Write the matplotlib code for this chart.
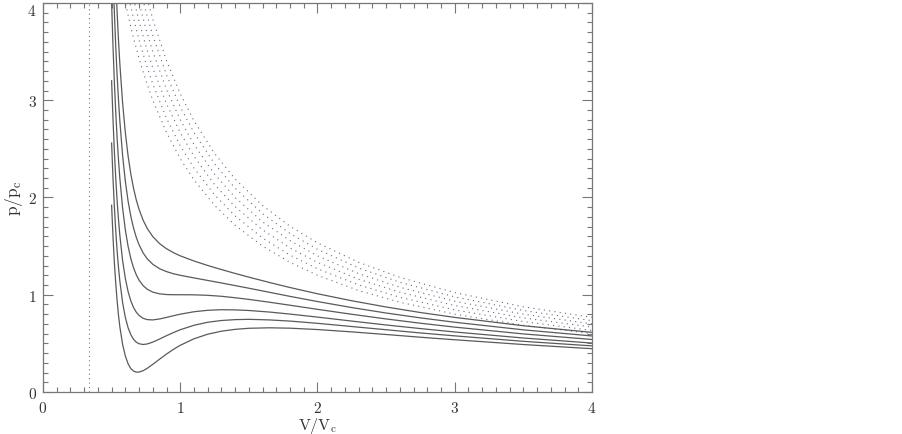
import numpy as np
import matplotlib
matplotlib.use("Agg")
import matplotlib.pyplot as plt
from matplotlib.ticker import MultipleLocator

# van der Waals isotherms (solid)
v_solid = [0.50, 0.51, 0.52, 0.53, 0.54, 0.55, 0.56, 0.58, 0.60, 0.62, 0.64, 0.66,
           0.68, 0.70, 0.73, 0.76, 0.80, 0.85, 0.90, 0.95, 1.00, 1.10, 1.20, 1.30,
           1.40, 1.50, 1.65, 1.80, 2.00, 2.25, 2.50, 2.75, 3.00, 3.50, 4.00]

p_iso1 = [1.92, 1.60, 1.33, 1.12, 0.94, 0.79, 0.67, 0.49, 0.37, 0.29, 0.24, 0.215,
          0.204, 0.205, 0.219, 0.244, 0.284, 0.338, 0.390, 0.438, 0.480, 0.547, 0.594, 0.625,
          0.644, 0.655, 0.660, 0.656, 0.642, 0.618, 0.591, 0.563, 0.537, 0.488, 0.445]
p_iso2 = [2.56, 2.20, 1.905, 1.66, 1.454, 1.283, 1.140, 0.920, 0.767, 0.661, 0.589, 0.541,
          0.512, 0.496, 0.488, 0.494, 0.513, 0.545, 0.579, 0.611, 0.640, 0.686, 0.717, 0.735,
          0.744, 0.747, 0.741, 0.729, 0.706, 0.673, 0.640, 0.607, 0.577, 0.521, 0.474]
p_iso3 = [3.20, 2.806, 2.477, 2.201, 1.970, 1.775, 1.610, 1.352, 1.167, 1.033, 0.937, 0.868,
          0.820, 0.787, 0.757, 0.744, 0.741, 0.751, 0.767, 0.784, 0.800, 0.825, 0.840, 0.846,
          0.844, 0.838, 0.822, 0.801, 0.770, 0.729, 0.689, 0.652, 0.617, 0.555, 0.503]
p_iso4 = [4.00, 3.560, 3.191, 2.879, 2.615, 2.390, 2.198, 1.893, 1.667, 1.498, 1.371, 1.276,
          1.204, 1.150, 1.093, 1.056, 1.027, 1.009, 1.002, 1.000, 1.000, 0.999, 0.994, 0.984,
          0.969, 0.952, 0.923, 0.892, 0.850, 0.799, 0.751, 0.707, 0.667, 0.597, 0.540]
p_iso5 = [4.80, 4.315, 3.905, 3.557, 3.260, 3.006, 2.787, 2.433, 2.167, 1.963, 1.806, 1.684,
          1.589, 1.514, 1.429, 1.369, 1.313, 1.267, 1.238, 1.216, 1.200, 1.173, 1.147, 1.121,
          1.094, 1.067, 1.025, 0.983, 0.930, 0.868, 0.812, 0.762, 0.717, 0.639, 0.576]
p_iso6 = [5.60, 5.070, 4.620, 4.235, 3.905, 3.621, 3.375, 2.974, 2.667, 2.428, 2.241, 2.093,
          1.974, 1.878, 1.765, 1.681, 1.598, 1.525, 1.473, 1.433, 1.400, 1.347, 1.301, 1.259,
          1.219, 1.181, 1.126, 1.074, 1.010, 0.938, 0.874, 0.817, 0.767, 0.681, 0.613]

# ideal-gas curves (dotted)
v_ideal = [0.58, 0.60, 0.65, 0.70, 0.75, 0.80, 0.90, 1.00, 1.10, 1.25, 1.40, 1.60,
           1.80, 2.00, 2.30, 2.60, 3.00, 3.50, 4.00]
p_ideal1 = [4.138, 4.000, 3.692, 3.429, 3.200, 3.000, 2.667, 2.400, 2.182, 1.920, 1.714, 1.500,
            1.333, 1.200, 1.043, 0.923, 0.800, 0.686, 0.600]
p_ideal2 = [4.368, 4.222, 3.897, 3.619, 3.378, 3.167, 2.815, 2.533, 2.303, 2.027, 1.810, 1.583,
            1.407, 1.267, 1.101, 0.974, 0.844, 0.724, 0.633]
p_ideal3 = [4.598, 4.444, 4.103, 3.810, 3.556, 3.333, 2.963, 2.667, 2.424, 2.133, 1.905, 1.667,
            1.481, 1.333, 1.159, 1.026, 0.889, 0.762, 0.667]
p_ideal4 = [4.828, 4.667, 4.308, 4.000, 3.733, 3.500, 3.111, 2.800, 2.545, 2.240, 2.000, 1.750,
            1.556, 1.400, 1.217, 1.077, 0.933, 0.800, 0.700]
p_ideal5 = [5.057, 4.889, 4.513, 4.190, 3.911, 3.667, 3.259, 2.933, 2.667, 2.347, 2.095, 1.833,
            1.630, 1.467, 1.275, 1.128, 0.978, 0.838, 0.733]
p_ideal6 = [5.287, 5.111, 4.718, 4.381, 4.089, 3.833, 3.407, 3.067, 2.788, 2.453, 2.190, 1.917,
            1.704, 1.533, 1.333, 1.179, 1.022, 0.876, 0.767]

v_excluded = 0.333  # V = b, dotted vertical line

solid_curves = [p_iso1, p_iso2, p_iso3, p_iso4, p_iso5, p_iso6]
dotted_curves = [p_ideal1, p_ideal2, p_ideal3, p_ideal4, p_ideal5, p_ideal6]

plt.rcParams['mathtext.fontset'] = 'cm'
plt.rcParams['axes.formatter.use_mathtext'] = True

fig = plt.figure(figsize=(9.03, 4.35), dpi=100)
ax = fig.add_axes([0.0476, 0.0966, 0.608, 0.8942])

gray = '#5a5a5a'
for p in dotted_curves:
    ax.plot(v_ideal, p, color='#6a6a80', lw=0.8, linestyle=(0, (1, 3.8)))
for p in solid_curves:
    ax.plot(v_solid, p, color=gray, lw=0.9)
ax.plot([v_excluded, v_excluded], [0, 4], color='#777777', lw=0.8, linestyle=(0, (1, 3)))

ax.set_xlim(0, 4)
ax.set_ylim(0, 4)
ax.xaxis.set_major_locator(MultipleLocator(1))
ax.yaxis.set_major_locator(MultipleLocator(1))
ax.xaxis.set_minor_locator(MultipleLocator(0.1))
ax.yaxis.set_minor_locator(MultipleLocator(0.1))

ax.tick_params(which='both', direction='in', top=True, right=True, color='#777777', width=0.8)
ax.tick_params(which='major', length=7.5)
ax.tick_params(which='minor', length=3.6)
ax.tick_params(axis='x', which='major', pad=5.5)
ax.tick_params(axis='y', which='major', pad=4.5)
for lab in ax.get_xticklabels() + ax.get_yticklabels():
    lab.set_fontfamily('cmr10')
    lab.set_fontsize(11)
    lab.set_color('#333333')
# keep the top "4" inside the figure, as in the original
for t in ax.yaxis.get_major_ticks():
    if abs(t.get_loc() - 4) < 1e-6:
        t.label1.set_va('top')
for s in ax.spines.values():
    s.set_color('#777777')
    s.set_linewidth(0.9)

fig.text(317.5 / 903, 1 - 430.5 / 435, r'$\mathrm{V/V_c}$', fontsize=11.5, color='#333333',
         ha='center', va='baseline')
ax.set_ylabel(r'$\mathrm{p/p_c}$', fontsize=12.5, color='#333333', labelpad=2)

fig.savefig('out.png', dpi=100)
